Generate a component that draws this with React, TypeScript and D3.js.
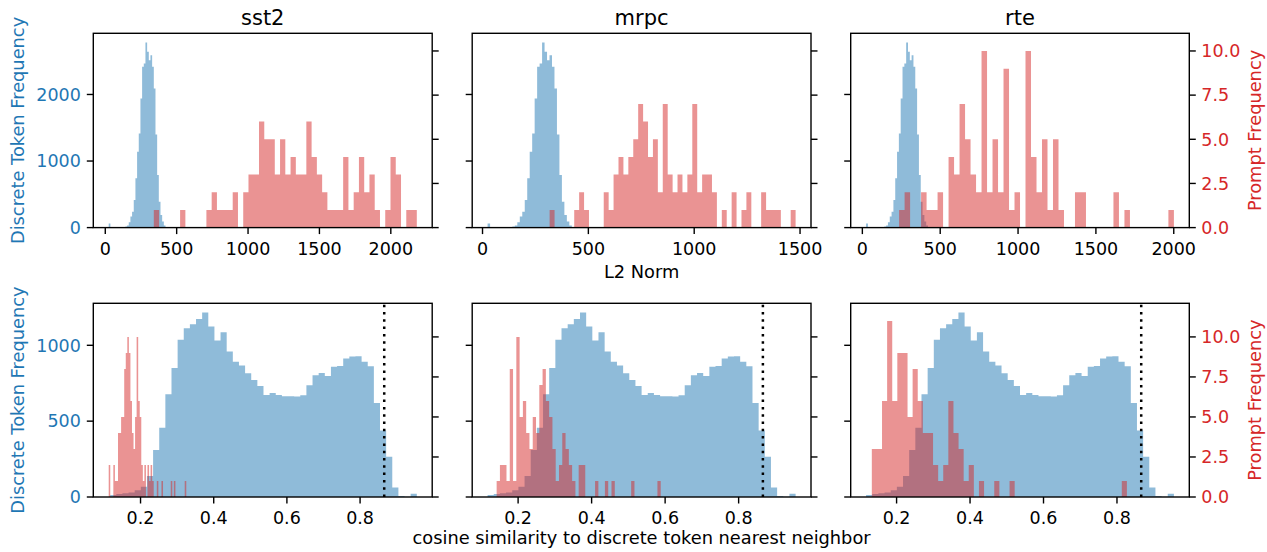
import React from 'react';
import * as d3 from 'd3';

const TASKS = ['sst2', 'mrpc', 'rte'];

// top row: L2 norm, discrete tokens (same vocabulary for every task)
const normTokenStart = 24;
const normTokenStep = 11.7;
const normTokenCounts = [
  60, 0, 0, 0, 0, 0, 0, 0, 0, 5, 15, 30, 80, 165, 240, 415, 740, 1140, 1415, 1940,
  2415, 2465, 2780, 2640, 2515, 2590, 2415, 2090, 1400, 790, 390, 190, 90, 30, 10,
];

// top row: L2 norm, prompt tokens (50 bins each)
const normPromptRanges = [[340, 2182], [317, 1479], [236, 2001]];
const normPromptCounts = [
  [1, 0, 0, 0, 0, 1, 0, 0, 0, 0, 1, 2, 1, 1, 1, 2, 0, 2, 3, 3, 6, 5, 5, 3, 5, 3, 4, 3, 3, 6, 4, 3, 2, 1, 1, 1, 4, 1, 2, 4, 2, 3, 1, 0, 1, 4, 3, 0, 1, 1],
  [1, 0, 0, 0, 0, 1, 2, 1, 0, 0, 0, 2, 1, 3, 4, 3, 4, 5, 7, 6, 4, 5, 2, 7, 3, 2, 3, 2, 3, 7, 2, 3, 3, 2, 0, 1, 0, 2, 0, 1, 2, 0, 0, 2, 1, 1, 1, 0, 0, 1],
  [1, 2, 0, 0, 2, 1, 1, 2, 0, 4, 3, 7, 5, 3, 2, 10, 2, 5, 2, 9, 1, 2, 0, 10, 4, 2, 5, 1, 5, 1, 0, 0, 2, 2, 0, 0, 0, 0, 0, 2, 0, 1, 0, 0, 0, 0, 0, 0, 0, 1],
];

// bottom row: cosine similarity, discrete tokens
const cosTokenRange = [0.117, 0.955];
const cosTokenCounts = [
  13, 20, 25, 30, 45, 68, 139, 310, 457, 677, 851, 1036, 1113, 1139, 1174, 1216, 1124, 1031, 1086, 959,
  891, 866, 816, 772, 732, 673, 686, 673, 664, 664, 662, 671, 737, 803, 818, 798, 858, 864, 913, 926,
  928, 891, 862, 620, 438, 266, 62, 7, 2, 22,
];

// bottom row: cosine similarity, prompt tokens
const cosPromptRanges = [[0.113, 0.325], [0.1416, 0.588], [0.1326, 0.827]];
const cosPromptCounts = [
  [2, 0, 0, 2, 1, 1, 4, 4, 5, 5, 8, 9, 10, 9, 6, 4, 3, 5, 10, 6, 5, 2, 1, 2, 0, 2, 1, 2, 1, 0, 0, 1, 0, 0, 1, 0, 0, 0, 0, 0, 1, 0, 1, 0, 0, 0, 0, 0, 0, 1],
  [1, 2, 2, 1, 8, 1, 10, 5, 6, 4, 3, 5, 4, 7, 8, 6, 5, 3, 1, 2, 4, 3, 2, 1, 0, 2, 2, 0, 0, 0, 1, 0, 0, 1, 0, 1, 0, 0, 0, 0, 0, 1, 0, 0, 0, 0, 0, 0, 0, 1],
  [3, 3, 6, 11, 6, 9, 9, 5, 8, 6, 4, 4, 2, 1, 2, 6, 4, 3, 1, 2, 0, 1, 0, 0, 1, 0, 0, 1, 0, 0, 0, 0, 0, 0, 0, 0, 0, 0, 0, 0, 0, 0, 0, 0, 0, 0, 0, 0, 0, 1],
];
const cosThreshold = 0.866;

const normXTicks = [[0, 500, 1000, 1500, 2000], [0, 500, 1000, 1500], [0, 500, 1000, 1500, 2000]];
const cosXTicks = [0.2, 0.4, 0.6, 0.8];
const normTokenTicks = [0, 1000, 2000];
const cosTokenTicks = [0, 500, 1000];
const promptTicks = [0, 2.5, 5, 7.5, 10];

const W = 1267;
const H = 552;
const BLUE = '#1f77b4';
const RED = '#d62728';
const FONT = 'DejaVu Sans, sans-serif';
const TICK_FS = 17.5;
const LABEL_FS = 17.8;
const TICK_LEN = 6.5;

const COLS = [[93.3, 432.2], [472.2, 811], [850.7, 1189.3]];
const ROWS = [[33.3, 227.6], [303.3, 497]];

type Bin = { x0: number; x1: number; n: number };

const makeBins = (range: number[], counts: number[]): Bin[] => {
  const step = (range[1] - range[0]) / counts.length;
  return counts.map((n, i) => ({ x0: range[0] + i * step, x1: range[0] + (i + 1) * step, n }));
};

// one step-shaped area per histogram, so the translucent bars show no seams
const histPath = (bins: Bin[], x: d3.ScaleLinear<number, number>, y: d3.ScaleLinear<number, number>) => {
  const pts = bins.map((b) => [b.x0, b.n]);
  pts.push([bins[bins.length - 1].x1, 0]);
  const area = d3.area<number[]>()
    .x((d) => x(d[0]))
    .y0(y(0))
    .y1((d) => y(d[1]))
    .curve(d3.curveStepAfter);
  return area(pts) || '';
};

function Panel(props: any) {
  const { col, row, token, prompt, leftMax, rightMax, xTicks, xFmt, leftTicks, threshold } = props;
  const [left, right] = COLS[col];
  const [top, bottom] = ROWS[row];

  const lo = Math.min(token[0].x0, prompt[0].x0);
  const hi = Math.max(token[token.length - 1].x1, prompt[prompt.length - 1].x1);
  const pad = (hi - lo) * 0.05;
  const x = d3.scaleLinear().domain([lo - pad, hi + pad]).range([left, right]);
  const yL = d3.scaleLinear().domain([0, leftMax]).range([bottom, top]);
  const yR = d3.scaleLinear().domain([0, rightMax]).range([bottom, top]);
  const rFmt = d3.format('.1f');

  return (
    <g>
      <path d={histPath(token, x, yL)} fill={BLUE} fillOpacity={0.5} />
      <path d={histPath(prompt, x, yR)} fill={RED} fillOpacity={0.5} />
      {threshold != null && (
        <line x1={x(threshold)} x2={x(threshold)} y1={bottom} y2={top} stroke="#000"
          strokeWidth={2.5} strokeDasharray="2.5 4.8" />
      )}
      <rect x={left} y={top} width={right - left} height={bottom - top} fill="none" stroke="#000" strokeWidth={1.4} />

      {xTicks.map((t: number) => (
        <g key={'x' + t}>
          <line x1={x(t)} x2={x(t)} y1={bottom} y2={bottom + TICK_LEN} stroke="#000" strokeWidth={1.4} />
          <text x={x(t)} y={bottom + 27} textAnchor="middle" fontSize={TICK_FS} fill="#000">{xFmt(t)}</text>
        </g>
      ))}
      {leftTicks.map((t: number) => (
        <g key={'l' + t}>
          <line x1={left} x2={left - TICK_LEN} y1={yL(t)} y2={yL(t)} stroke="#000" strokeWidth={1.4} />
          {col === 0 && (
            <text x={left - 12.5} y={yL(t) + 6.3} textAnchor="end" fontSize={TICK_FS} fill={BLUE}>{t}</text>
          )}
        </g>
      ))}
      {promptTicks.map((t: number) => (
        <g key={'r' + t}>
          <line x1={right} x2={right + TICK_LEN} y1={yR(t)} y2={yR(t)} stroke="#000" strokeWidth={1.4} />
          {col === 2 && (
            <text x={right + 12} y={yR(t) + 6.3} textAnchor="start" fontSize={TICK_FS} fill={RED}>{rFmt(t)}</text>
          )}
        </g>
      ))}
      {row === 0 && (
        <text x={(left + right) / 2} y={24.5} textAnchor="middle" fontSize={21} fill="#000">{TASKS[col]}</text>
      )}
    </g>
  );
}

export default function App() {
  const normTokenBins: Bin[] = normTokenCounts.map((n, i) => ({
    x0: normTokenStart + i * normTokenStep,
    x1: normTokenStart + (i + 1) * normTokenStep,
    n,
  }));
  const cosTokenBins = makeBins(cosTokenRange, cosTokenCounts);
  const normPromptBins = normPromptRanges.map((r, i) => makeBins(r, normPromptCounts[i]));
  const cosPromptBins = cosPromptRanges.map((r, i) => makeBins(r, cosPromptCounts[i]));

  const rows = [
    {
      token: normTokenBins, prompts: normPromptBins, leftTicks: normTokenTicks,
      xTicks: normXTicks, xFmt: d3.format('d'), threshold: null,
    },
    {
      token: cosTokenBins, prompts: cosPromptBins, leftTicks: cosTokenTicks,
      xTicks: [cosXTicks, cosXTicks, cosXTicks], xFmt: d3.format('.1f'), threshold: cosThreshold,
    },
  ];

  return (
    <svg width={W} height={H} style={{ position: 'absolute', left: 0, top: 0, background: '#fff' }}
      fontFamily={FONT}>
      <rect width={W} height={H} fill="#fff" />
      {rows.map((r, ri) => {
        const leftMax = (d3.max(r.token, (b) => b.n) as number) * 1.05;
        const rightMax = (d3.max(r.prompts.flat(), (b) => b.n) as number) * 1.1;
        const mid = (ROWS[ri][0] + ROWS[ri][1]) / 2;
        return (
          <g key={ri}>
            {TASKS.map((_, ci) => (
              <Panel key={ci} col={ci} row={ri} token={r.token} prompt={r.prompts[ci]}
                leftMax={leftMax} rightMax={rightMax} xTicks={r.xTicks[ci]} xFmt={r.xFmt}
                leftTicks={r.leftTicks} threshold={r.threshold} />
            ))}
            <text transform={`translate(23.5,${mid}) rotate(-90)`} textAnchor="middle"
              fontSize={LABEL_FS} fill={BLUE}>Discrete Token Frequency</text>
            <text transform={`translate(1261,${mid}) rotate(-90)`} textAnchor="middle"
              fontSize={LABEL_FS} fill={RED}>Prompt Frequency</text>
          </g>
        );
      })}
      <text x={641.6} y={278} textAnchor="middle" fontSize={LABEL_FS} fill="#000">L2 Norm</text>
      <text x={641.6} y={543.5} textAnchor="middle" fontSize={LABEL_FS} fill="#000">
        cosine similarity to discrete token nearest neighbor
      </text>
    </svg>
  );
}
